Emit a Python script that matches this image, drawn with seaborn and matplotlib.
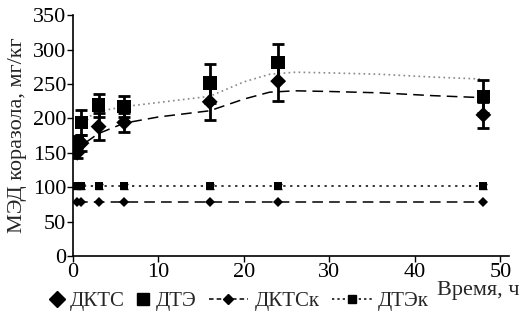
import matplotlib
matplotlib.use("Agg")
from matplotlib import pyplot as plt
from matplotlib.lines import Line2D
from matplotlib.legend_handler import HandlerLine2D
import seaborn as sns

# time points, h
t = [0.5, 1, 3, 6, 16, 24, 48]
# experimental values (mean and error)
dkts = [150, 164, 188, 194, 224, 254, 205]
dkts_err = [8, 12, 20, 14, 26, 29, 19]
dte = [165, 194, 219, 217, 251, 281, 232]
dte_err = [10, 18, 17, 15, 28, 27, 24]
# control groups
dkts_k = [78, 78, 78, 78, 78, 78, 78]
dte_k = [101, 101, 101, 101, 101, 101, 101]
dte_k_err = [4, 4, 4, 4, 4, 4, 4]
# fitted curves
fit_dte_t = [1, 2, 3, 6, 10, 16, 20, 23, 26, 30, 36, 42, 48]
fit_dte = [185, 203, 210, 217, 223, 232, 253, 264, 267, 266, 264, 260, 257]
fit_dkts_t = [1.5, 3, 6, 10, 16, 20, 23, 26, 30, 36, 42, 48]
fit_dkts = [165, 178, 193, 202, 211, 228, 238, 240, 239, 237, 233, 230]

FONT = 'Liberation Serif'


class SizedHandler(HandlerLine2D):
    '''Legend handler with its own handle length (in font-size units).'''
    def __init__(self, length, **kw):
        super().__init__(**kw)
        self.length = length

    def legend_artist(self, legend, orig_handle, fontsize, handlebox):
        handlebox.width = self.length * fontsize
        return super().legend_artist(legend, orig_handle, fontsize, handlebox)


sns.set_style("ticks")
plt.rcParams['font.family'] = FONT

fig, ax = plt.subplots(figsize=(5.21, 3.21), dpi=100)
fig.subplots_adjust(left=0.140, right=0.977, bottom=0.2025, top=0.953)

# fitted curves
sns.lineplot(x=fit_dte_t, y=fit_dte, ax=ax, color='#888888', lw=1.2,
             linestyle=(0, (1, 2)), sort=True, estimator=None)
sns.lineplot(x=fit_dkts_t, y=fit_dkts, ax=ax, color='black', lw=1.1,
             linestyle=(0, (7, 4)), sort=True, estimator=None)

# control lines
sns.lineplot(x=t, y=dkts_k, ax=ax, color='black', lw=1.1, linestyle=(0, (7, 4)),
             marker='D', markersize=5, markeredgewidth=0, estimator=None)
ax.errorbar(t, dte_k, yerr=dte_k_err, fmt='none', ecolor='black', elinewidth=1.5, capsize=3)
sns.lineplot(x=t, y=dte_k, ax=ax, color='black', lw=1.1, linestyle=(0, (1.5, 3)),
             marker='s', markersize=6, markeredgewidth=0, estimator=None)

# experimental points
ax.errorbar(t, dte, yerr=dte_err, fmt='none', ecolor='black', elinewidth=2, capsize=4, capthick=2)
ax.errorbar(t, dkts, yerr=dkts_err, fmt='none', ecolor='black', elinewidth=2, capsize=4, capthick=2)
sns.scatterplot(x=t, y=dte, ax=ax, marker='s', s=95, color='black', edgecolor='none', zorder=5)
sns.scatterplot(x=t, y=dkts, ax=ax, marker='D', s=65, color='black', edgecolor='none', zorder=6)

ax.set_xlim(0, 51)
ax.set_ylim(0, 350)
ax.set_xticks([0, 10, 20, 30, 40, 50])
ax.set_yticks(range(0, 351, 50))
ax.tick_params(direction='out', length=4, width=1, colors='black', labelsize=16, pad=1)
for lbl in ax.get_xticklabels() + ax.get_yticklabels():
    lbl.set_fontfamily(FONT)
sns.despine(ax=ax)
for sp in ['left', 'bottom']:
    ax.spines[sp].set_linewidth(1.2)
    ax.spines[sp].set_color('black')

ax.set_ylabel('МЭД коразола, мг/кг', fontsize=16, family=FONT, labelpad=4)
ax.set_xlabel('Время, ч', fontsize=16, family=FONT, ha='right', va='top')
ax.xaxis.set_label_coords(1.025, -0.105)

h_dkts = Line2D([], [], color='black', marker='D', markersize=8, linestyle='none')
h_dte = Line2D([], [], color='black', marker='s', markersize=9, linestyle='none')
h_dkts_k = Line2D([], [], color='black', marker='D', markersize=5, lw=1.1, linestyle=(0, (3, 2)))
h_dte_k = Line2D([], [], color='black', marker='s', markersize=6, lw=1.1, linestyle=(0, (1.5, 2)))
labels = ['ДКТС', 'ДТЭ', 'ДКТСк', 'ДТЭк']
fig.legend([h_dkts, h_dte, h_dkts_k, h_dte_k], labels, loc='center',
           bbox_to_anchor=(0.46, 0.062), ncol=4, frameon=False,
           prop={'family': FONT, 'size': 15}, handletextpad=0.3,
           columnspacing=0.6, borderpad=0,
           handler_map={h_dkts: SizedHandler(0.6), h_dte: SizedHandler(0.6),
                        h_dkts_k: SizedHandler(1.9), h_dte_k: SizedHandler(1.9)})

fig.savefig('out.png', dpi=100)
